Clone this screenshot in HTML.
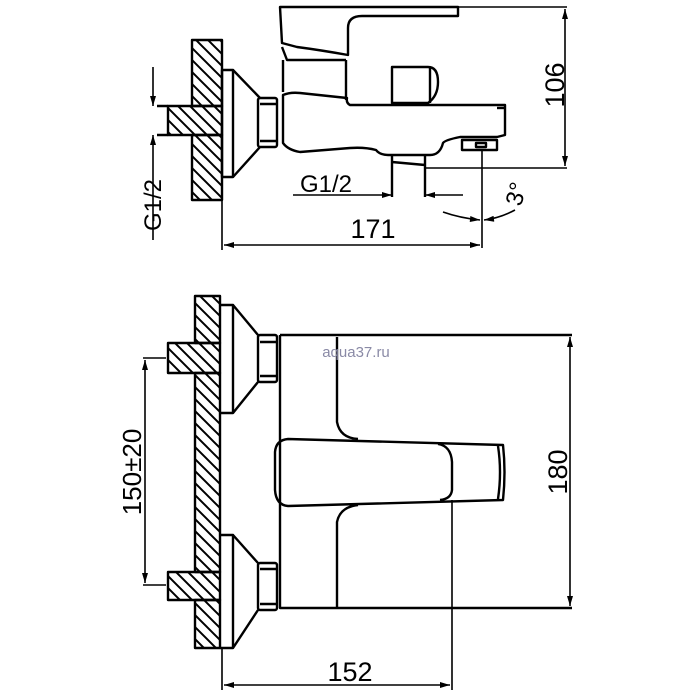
<!DOCTYPE html>
<html><head><meta charset="utf-8"><style>
html,body{margin:0;padding:0;background:#fff;}
svg{display:block;}
text{font-family:"Liberation Sans",Arial,sans-serif;fill:#000;}
</style></head><body>
<svg width="700" height="700" viewBox="0 0 700 700" xmlns="http://www.w3.org/2000/svg">
<defs>
<pattern id="h" patternUnits="userSpaceOnUse" width="12" height="12">
<path d="M-2,-2 L14,14 M-14,-2 L2,14 M10,-2 L26,14" stroke="#000" stroke-width="2"/>
</pattern>
<marker id="a" viewBox="0 0 10 6" refX="10" refY="3" markerWidth="11" markerHeight="6" orient="auto-start-reverse" markerUnits="userSpaceOnUse">
<path d="M0,0 L10,3 L0,6 Z" fill="#000"/>
</marker>
</defs>
<g fill="none" stroke="#000" stroke-width="2.4" stroke-linejoin="round">
<!-- TOP VIEW -->
<path d="M192,40 H222 V106 H192 Z M192,135 H222 V200 H192 Z" fill="url(#h)"/>
<rect x="168" y="106" width="54" height="29" fill="url(#h)"/>
<path d="M157,106 H168 M157,135 H168"/>
<path d="M222,70 H233 V177 H222 Z"/>
<path d="M233,70 L260,98 M233,177 L260,147"/>
<rect x="258" y="98" width="19" height="49" rx="2"/>
<path d="M260,104 H276 M260,141 H276"/>
<!-- body -->
<path d="M280,7 H458 V16 H362 Q348,16 348,28 V55 Q320,50 297,47 L282,43 Z"/>
<path d="M282,47 L287,60 H346 M283,60 V92"/>
<path d="M283,95 Q290,92 300,93 L347,98 Q346,103 350,105 H505 V135 L497,137 H460 Q445,140 443,143 Q440,155 430,155 H388 Q380,155 376,150 Q365,147 350,148 L300,152 Q288,150 283,143 Z"/>
<path d="M346,60 V100"/>
<path d="M497,108 L505,108"/>
<path d="M392,67 H428 Q438,67 438,82 Q438,96 428,103 H392 Z"/>
<path d="M430,67 V103"/>
<rect x="462" y="140" width="35" height="10"/>
<rect x="476" y="143" width="10" height="4"/>
<path d="M392,155 V197 M425,155 V197 M392,162 L425,165"/>
<!-- top dims -->
<g stroke-width="1.6">
<path d="M458,7 H567 M425,168 H567"/>
<path d="M565,9 V166" marker-start="url(#a)" marker-end="url(#a)"/>
<path d="M293,195 H392" marker-end="url(#a)"/>
<path d="M463,195 H425" marker-end="url(#a)"/>
<path d="M482,150 V248"/>
<path d="M222,177 V250"/>
<path d="M224,245 H480" marker-start="url(#a)" marker-end="url(#a)"/>
<path d="M153,67 V106" marker-end="url(#a)"/>
<path d="M153,240 V135" marker-end="url(#a)"/>
<path d="M443,212 Q460,218 480,220" marker-end="url(#a)"/>
<path d="M515,210 Q500,218 484,220" marker-end="url(#a)"/>
</g>
<!-- BOTTOM VIEW -->
<path d="M195,296 H220 V343 H195 Z M195,373 H220 V572 H195 Z M195,600 H220 V648 H195 Z" fill="url(#h)"/>
<rect x="168" y="343" width="52" height="30" fill="url(#h)"/>
<rect x="168" y="572" width="52" height="28" fill="url(#h)"/>
<path d="M220,305 H233 V413 H220 M233,305 L258,335 M233,413 L258,382"/>
<rect x="258" y="335" width="19" height="47" rx="2"/>
<path d="M260,342 H276 M260,376 H276"/>
<path d="M220,535 H233 V648 H220 M233,535 L258,563 M233,648 L258,610"/>
<rect x="258" y="563" width="19" height="47" rx="2"/>
<path d="M260,569 H276 M260,604 H276"/>
<path d="M280,335 H572 M280,335 V608 H572"/>
<path d="M337,337 V422 Q340,438 358,439"/>
<path d="M358,505 Q340,507 337,522 V608"/>
<path d="M288,439 L503,445 Q506,472 503,500 L288,506 Q276,505 275,490 V452 Q276,440 288,439 Z"/>
<path d="M438,444 Q451,446 452,462 V490 Q451,499 440,500"/>
<path d="M498,446 Q502,472 498,499"/>
<g stroke-width="1.6">
<path d="M452,500 V690 M222,648 V690"/>
<path d="M224,685 H450" marker-start="url(#a)" marker-end="url(#a)"/>
<path d="M570,337 V606" marker-start="url(#a)" marker-end="url(#a)"/>
<path d="M145,360 V583" marker-start="url(#a)" marker-end="url(#a)"/>
<path d="M143,358 H166 M143,585 H166"/>
</g>
</g>
<!-- labels -->
<text x="326" y="192" font-size="24" text-anchor="middle">G1/2</text>
<text x="373" y="238" font-size="27" text-anchor="middle">171</text>
<text transform="translate(564,85) rotate(-90)" font-size="27" text-anchor="middle">106</text>
<text transform="translate(161,205) rotate(-90)" font-size="24" text-anchor="middle">G1/2</text>
<text transform="translate(524,196) rotate(-75)" font-size="24" text-anchor="middle">3°</text>
<text x="350" y="681" font-size="27" text-anchor="middle">152</text>
<text transform="translate(567,472) rotate(-90)" font-size="27" text-anchor="middle">180</text>
<text transform="translate(141,472) rotate(-90)" font-size="26" text-anchor="middle">150±20</text>
<text x="356" y="357" font-size="15" text-anchor="middle" style="fill:#8a8aa6">aqua37.ru</text>
</svg>
</body></html>
